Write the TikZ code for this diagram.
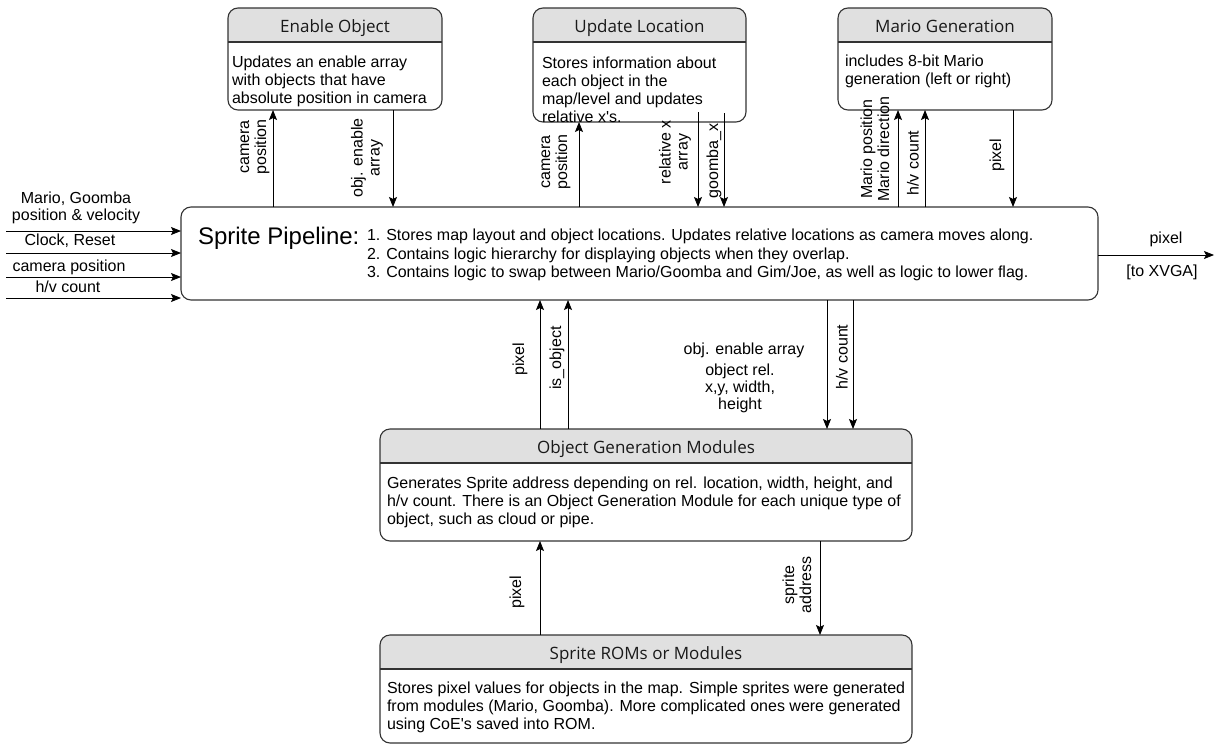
\documentclass[tikz,border=0pt]{standalone}
\usepackage{fontspec}
\setmainfont{Liberation Sans}[Ligatures=TeXOff]
\newfontfamily\hdrfont{Open Sans}
\usetikzlibrary{arrows.meta}
\definecolor{hdrgray}{HTML}{E0E0E0}
\definecolor{edgegray}{HTML}{333333}
% multi-line text blocks whose baseline is the first line
\newcommand{\txtlines}[1]{\begin{tabular}[t]{@{}l@{}}#1\end{tabular}}
\newcommand{\ctrlines}[1]{\begin{tabular}[t]{@{}c@{}}#1\end{tabular}}

\begin{document}
\begin{tikzpicture}[x=1pt,y=-1pt,
  every node/.style={inner sep=0pt, outer sep=0pt},
  txt/.style={font=\fontsize{16}{18}\selectfont, text=black},
  ttl/.style={font=\hdrfont\fontsize{17}{20}\selectfont, text=black!90},
  lbl/.style={font=\fontsize{16}{17}\selectfont, text=black, align=center},
  vlbl/.style={lbl, rotate=90},
  arr/.style={draw=black, line width=0.9pt, -{Stealth[length=10pt,width=8pt,inset=2pt]}},
  swim/.style={draw=edgegray, line width=1.1pt, rounded corners=10pt, fill=white,
    path picture={
      \fill[hdrgray, sharp corners] (path picture bounding box.north west) rectangle ([yshift=-34pt]path picture bounding box.north east);
      \draw[edgegray, line width=1.1pt, sharp corners] ([yshift=-34pt]path picture bounding box.north west) -- ([yshift=-34pt]path picture bounding box.north east);
    }},
  plain/.style={draw=edgegray, line width=1.1pt, rounded corners=10pt, fill=white},
]
\useasboundingbox (0,0) rectangle (1215,744);

% ---- module boxes ----
\node[swim, minimum width=214pt, minimum height=102pt] (en) at (335,59) {};
\node[swim, minimum width=213pt, minimum height=114pt] (ul) at (639.5,65) {};
\node[swim, minimum width=214pt, minimum height=102pt] (mg) at (945,59) {};
\node[plain, minimum width=917pt, minimum height=93pt] (sp) at (639.5,253.5) {};
\node[swim, minimum width=532pt, minimum height=112pt] (og) at (646,485) {};
\node[swim, minimum width=532pt, minimum height=108pt] (rm) at (646,689) {};

% ---- titles ----
\node[ttl, anchor=base] (en-t) at ([yshift=-24.5pt]en.north) {Enable Object};
\node[ttl, anchor=base] (ul-t) at ([yshift=-24.5pt]ul.north) {Update Location};
\node[ttl, anchor=base] (mg-t) at ([yshift=-24.5pt]mg.north) {Mario Generation};
\node[ttl, anchor=base] (og-t) at ([yshift=-24.5pt]og.north) {Object Generation Modules};
\node[ttl, anchor=base] (rm-t) at ([yshift=-24pt]rm.north) {Sprite ROMs or Modules};

% ---- descriptions ----
\node[txt, anchor=base west] (en-b) at (232,67.5) {\txtlines{Updates an enable array\\with objects that have\\absolute position in camera}};
\node[txt, anchor=base west] (ul-b) at (542,68) {\txtlines{Stores information about\\each object in the\\map/level and updates\\relative x's.}};
\node[txt, anchor=base west] (mg-b) at (845,66.5) {\txtlines{includes 8-bit Mario\\generation (left or right)}};
\node[txt, anchor=base west] (og-b) at (387,488) {\txtlines{Generates Sprite address depending on rel. location, width, height, and\\h/v count. There is an Object Generation Module for each unique type of\\object, such as cloud or pipe.}};
\node[txt, anchor=base west] (rm-b) at (387,693) {\txtlines{Stores pixel values for objects in the map. Simple sprites were generated\\from modules (Mario, Goomba). More complicated ones were generated\\using CoE's saved into ROM.}};

\node[font=\fontsize{24}{28}\selectfont, anchor=base west] (sp-t) at (198,244) {Sprite Pipeline:};
\node[font=\fontsize{16}{18.5}\selectfont, anchor=base west] (sp-b) at (367,240.5) {\txtlines{1. Stores map layout and object locations. Updates relative locations as camera moves along.\\2. Contains logic hierarchy for displaying objects when they overlap.\\3. Contains logic to swap between Mario/Goomba and Gim/Joe, as well as logic to lower flag.}};

% ---- external inputs and output ----
\coordinate (in0) at (6,231);
\coordinate (in1) at (6,253);
\coordinate (in2) at (6,277);
\coordinate (in3) at (6,298);
\coordinate (out) at (1214,255);
\draw[arr] (in0) -- (in0 -| sp.west);
\draw[arr] (in1) -- (in1 -| sp.west);
\draw[arr] (in2) -- (in2 -| sp.west);
\draw[arr] (in3) -- (in3 -| sp.west);
\draw[arr] (out -| sp.east) -- (out);

\node[lbl, anchor=base] (in0-l) at (76,203) {\ctrlines{Mario, Goomba\\position \& velocity}};
\node[lbl, anchor=base] (in1-l) at (70,245) {Clock, Reset};
\node[lbl, anchor=base] (in2-l) at (69,271) {camera position};
\node[lbl, anchor=base] (in3-l) at (68,292) {h/v count};
\node[lbl, anchor=base] (out-l) at (1166,243) {pixel};
\node[lbl, anchor=base] (out-l2) at (1162,276) {[to XVGA]};

% ---- pipeline <-> upper modules ----
\draw[arr] ([xshift=92pt]sp.north west) -- ([xshift=45pt]en.south west);
\draw[arr] ([xshift=165pt]en.south west) -- ([xshift=212pt]sp.north west);
\draw[arr] ([xshift=398pt]sp.north west) -- ([xshift=46pt]ul.south west);
\draw[arr] ([xshift=165pt,yshift=10pt]ul.south west) -- ([xshift=517pt]sp.north west);
\draw[arr] ([xshift=191pt,yshift=9pt]ul.south west) -- ([xshift=543pt]sp.north west);
\draw[arr] ([xshift=717pt]sp.north west) -- ([xshift=60pt]mg.south west);
\draw[arr] ([xshift=744pt]sp.north west) -- ([xshift=87pt]mg.south west);
\draw[arr] ([xshift=175pt]mg.south west) -- ([xshift=832pt]sp.north west);

\node[vlbl] (en-cp) at (255,147) {camera\\position};
\node[vlbl] (en-oe) at (367,158) {obj. enable\\array};
\node[vlbl] (ul-cp) at (556,162) {camera\\position};
\node[vlbl] (ul-rx) at (675,152) {relative x\\array};
\node[vlbl] (ul-gx) at (714,161) {goomba\_x};
\node[vlbl] (mg-mp) at (875,149) {Mario position\\Mario direction};
\node[vlbl] (mg-hv) at (913,163) {h/v count};
\node[vlbl] (mg-px) at (997,155) {pixel};

% ---- pipeline <-> object generation ----
\draw[arr] ([xshift=160pt]og.north west) -- ([xshift=359pt]sp.south west);
\draw[arr] ([xshift=188pt]og.north west) -- ([xshift=387pt]sp.south west);
\draw[arr] ([xshift=646pt]sp.south west) -- ([xshift=447pt]og.north west);
\draw[arr] ([xshift=672pt]sp.south west) -- ([xshift=473pt]og.north west);

\node[vlbl] (og-px) at (520,359) {pixel};
\node[vlbl] (og-io) at (557,358) {is\_object};
\node[vlbl] (og-hv) at (842,357) {h/v count};
\node[lbl, anchor=base] (og-oe) at (744,354) {obj. enable array};
\node[lbl, anchor=base] (og-rel) at (740,375.5) {\ctrlines{object rel.\\x,y, width,\\height}};

% ---- object generation <-> sprite ROMs ----
\draw[arr] ([xshift=160pt]rm.north west) -- ([xshift=160pt]og.south west);
\draw[arr] ([xshift=440pt]og.south west) -- ([xshift=440pt]rm.north west);

\node[vlbl] (rm-px) at (517,592) {pixel};
\node[vlbl] (rm-sa) at (797,585) {sprite\\address};
\end{tikzpicture}
\end{document}
